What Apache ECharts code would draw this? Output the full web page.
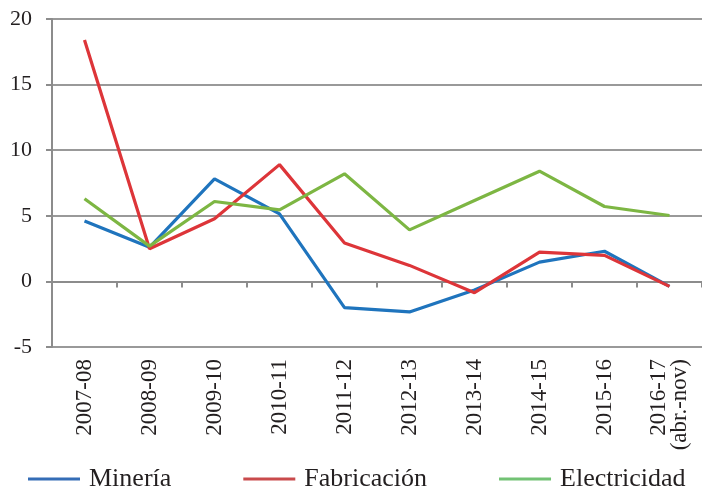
<!DOCTYPE html>
<html>
<head>
<meta charset="utf-8">
<script src="https://cdn.jsdelivr.net/npm/echarts@6/dist/echarts.min.js"></script>
<style>
html,body{margin:0;padding:0;background:#fff;}
#chart{width:702px;height:488px;}
</style>
</head>
<body>
<div id="chart"></div>
<script>
var categories = ['2007-08','2008-09','2009-10','2010-11','2011-12','2012-13','2013-14','2014-15','2015-16','2016-17\n(abr.-nov)'];
var mineria = [4.6, 2.6, 7.82, 5.15, -2.0, -2.33, -0.65, 1.47, 2.3, -0.38];
var fabricacion = [18.4, 2.49, 4.77, 8.9, 2.92, 1.22, -0.86, 2.23, 1.98, -0.38];
var electricidad = [6.3, 2.69, 6.09, 5.45, 8.2, 3.93, 6.16, 8.4, 5.71, 5.02];
var seriesNames = ['Minería','Fabricación','Electricidad'];
var yTicks = {min: -5, max: 20, interval: 5};

var FONT = 'Liberation Serif';
var TXT = '#231f20';
var chart = echarts.init(document.getElementById('chart'), null, {renderer: 'canvas'});
chart.setOption({
  animation: false,
  backgroundColor: '#fff',
  grid: {left: 52, top: 19, right: -9, bottom: 141, containLabel: false},
  legend: {
    left: 23, top: 461,
    itemWidth: 52, itemHeight: 3, itemGap: 72,
    textStyle: {fontFamily: FONT, fontSize: 26, color: TXT, padding: [0,0,0,4]},
    data: [
      {name: seriesNames[0], icon: 'rect', itemStyle: {color: '#346db6'}, lineStyle: {color: '#346db6', width: 3}},
      {name: seriesNames[1], icon: 'rect', itemStyle: {color: '#c94a4c'}, lineStyle: {color: '#c94a4c', width: 3}},
      {name: seriesNames[2], icon: 'rect', itemStyle: {color: '#72c274'}, lineStyle: {color: '#72c274', width: 3}}
    ],
    itemStyle: {borderWidth: 0}
  },
  xAxis: [
    {
      type: 'category', data: categories, position: 'bottom', boundaryGap: true,
      axisLine: {show: false, onZero: false},
      axisTick: {show: false},
      axisLabel: {rotate: 90, margin: 12, fontFamily: FONT, fontSize: 23, color: TXT, lineHeight: 21, interval: 0}
    },
    {
      type: 'category', data: categories, position: 'bottom', boundaryGap: true,
      axisLine: {show: true, onZero: true, lineStyle: {color: '#8c8c8c', width: 2}},
      axisTick: {show: true, length: 6, alignWithLabel: false, interval: 0, lineStyle: {color: '#8c8c8c', width: 2}},
      axisLabel: {show: false},
      splitLine: {show: false}
    }
  ],
  yAxis: {
    type: 'value', min: yTicks.min, max: yTicks.max, interval: yTicks.interval,
    axisLine: {show: true, lineStyle: {color: '#8c8c8c', width: 2}},
    axisTick: {show: true, length: 6, lineStyle: {color: '#8c8c8c', width: 2}},
    axisLabel: {margin: 20, fontFamily: FONT, fontSize: 22, color: TXT},
    splitLine: {show: true, lineStyle: {color: '#999', width: 2}}
  },
  series: [
    {name: seriesNames[0], type: 'line', xAxisIndex: 0, data: mineria, symbol: 'none', lineStyle: {width: 3.2, color: '#1f74bd'}, itemStyle: {color: '#1f74bd'}},
    {name: seriesNames[1], type: 'line', xAxisIndex: 0, data: fabricacion, symbol: 'none', lineStyle: {width: 3.2, color: '#dd3539'}, itemStyle: {color: '#dd3539'}},
    {name: seriesNames[2], type: 'line', xAxisIndex: 0, data: electricidad, symbol: 'none', lineStyle: {width: 3.2, color: '#7db643'}, itemStyle: {color: '#7db643'}}
  ]
});
</script>
</body>
</html>
